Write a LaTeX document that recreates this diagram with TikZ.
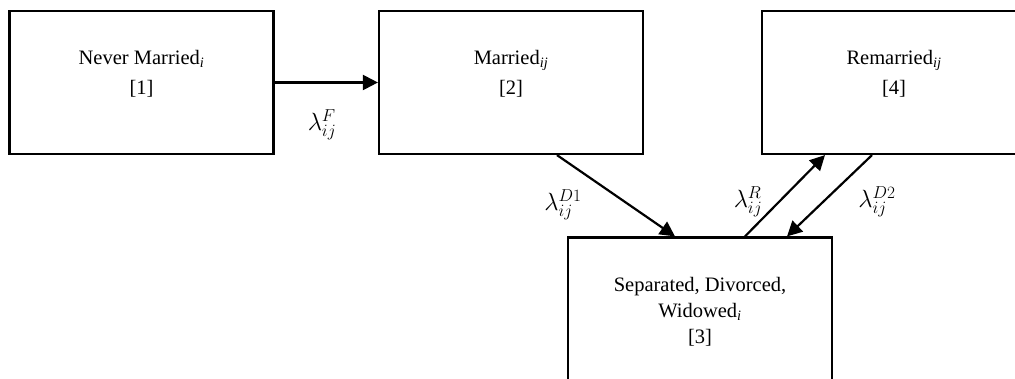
\documentclass[tikz,border=0pt]{standalone}
\usepackage{fontspec}
\setmainfont{Liberation Serif}
\usetikzlibrary{arrows.meta}
\tikzset{
  statebox/.style={draw=black, line width=2.2pt, rectangle, minimum width=264pt, minimum height=143pt, inner sep=0pt},
  boxtext/.style={anchor=north, align=center, inner sep=0pt, font=\fontsize{20.5}{30}\selectfont},
  trans/.style={line width=2.2pt, -{Triangle[length=15pt,width=15pt]}},
  rate/.style={inner sep=0pt, font=\fontsize{26}{30}\selectfont}
}
\newcommand{\subi}[1]{\textsubscript{\itshape #1}}
\begin{document}
\begin{tikzpicture}[x=1pt,y=-1pt]
\useasboundingbox (0,0) rectangle (1015,379);
\clip (0,0) rectangle (1015,379);
\node[statebox] (b1) at (141.5,82.5) {};
\node[statebox] (b2) at (511,82.5) {};
\node[statebox] (b4) at (894,82.5) {};
\node[statebox] (b3) at (700,309) {};
\node[boxtext] (t1) at ([yshift=-40pt]b1.north) {Never Married\subi{i}\\{}[1]};
\node[boxtext] (t2) at ([yshift=-40pt]b2.north) {Married\subi{ij}\\{}[2]};
\node[boxtext] (t4) at ([yshift=-40pt]b4.north) {Remarried\subi{ij}\\{}[4]};
\node[boxtext, font=\fontsize{20.5}{26}\selectfont] (t3) at ([yshift=-41pt]b3.north) {Separated, Divorced,\\Widowed\subi{i}\\{}[3]};
\draw[trans] (b1.east) -- (b2.west);
\draw[trans] ([xshift=46pt]b2.south) -- ([xshift=-25pt]b3.north);
\draw[trans] ([xshift=45pt]b3.north) -- ([xshift=-69pt]b4.south);
\draw[trans] ([xshift=-22pt]b4.south) -- ([xshift=87pt]b3.north);
\node[rate] (lF) at (322,125) {$\lambda^{F}_{ij}$};
\node[rate] (lD1) at (563,205) {$\lambda^{D1}_{ij}$};
\node[rate] (lR) at (748,202) {$\lambda^{R}_{ij}$};
\node[rate] (lD2) at (877,202) {$\lambda^{D2}_{ij}$};
\end{tikzpicture}
\end{document}
